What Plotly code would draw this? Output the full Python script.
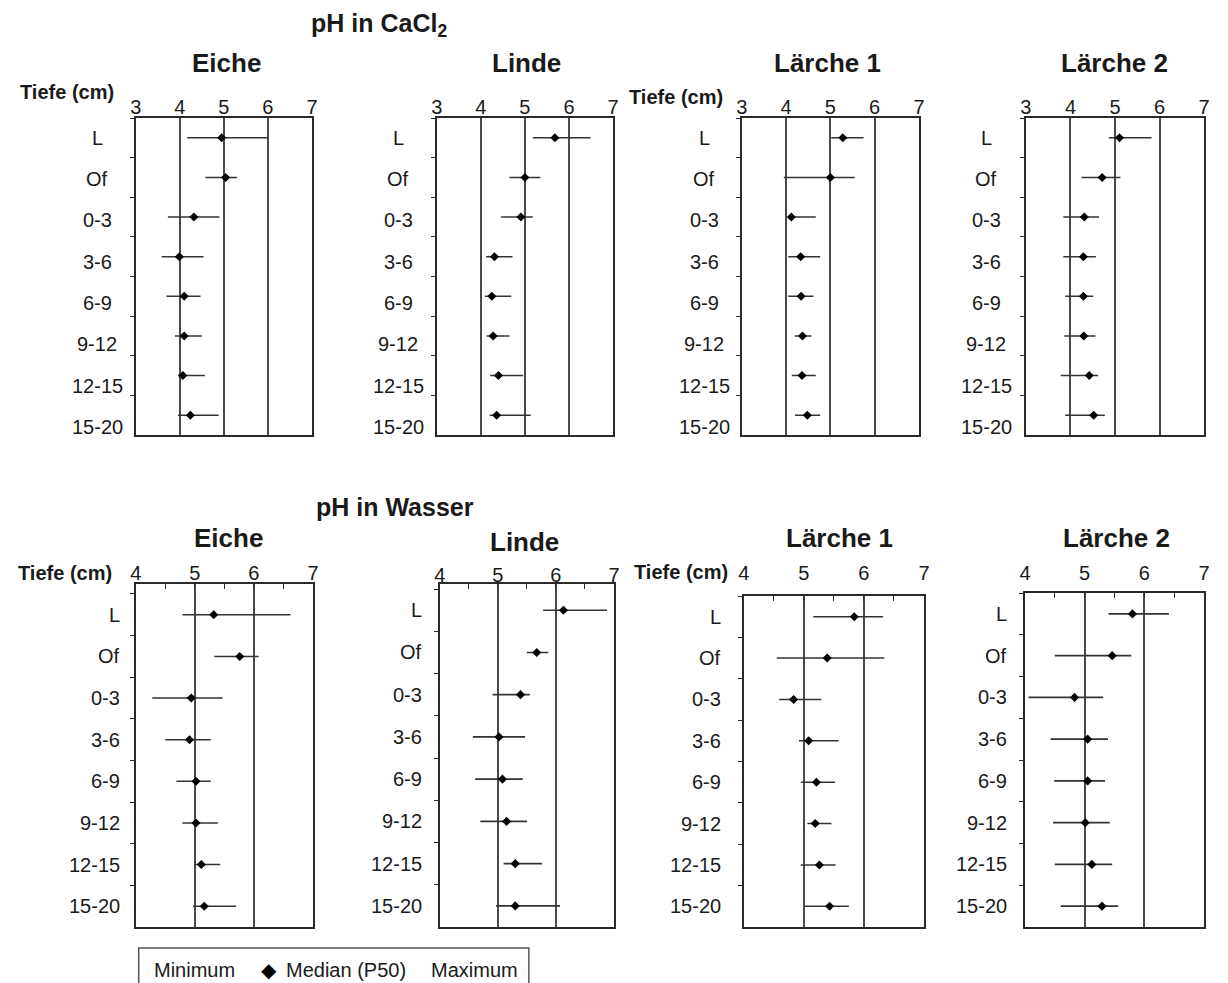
import plotly.graph_objects as go

W, H = 1228, 983

depths = ["L", "Of", "0-3", "3-6", "6-9", "9-12", "12-15", "15-20"]
sites = ["Eiche", "Linde", "Lärche 1", "Lärche 2"]

# ---- pH in CaCl2 ----
cacl2_eiche_min = [4.17, 4.58, 3.73, 3.59, 3.70, 3.89, 3.96, 3.96]
cacl2_eiche_med = [4.95, 5.04, 4.32, 3.99, 4.10, 4.10, 4.07, 4.24]
cacl2_eiche_max = [6.00, 5.30, 4.90, 4.54, 4.47, 4.50, 4.57, 4.88]

cacl2_linde_min = [5.18, 4.65, 4.46, 4.12, 4.09, 4.13, 4.21, 4.20]
cacl2_linde_med = [5.68, 5.00, 4.91, 4.31, 4.25, 4.28, 4.40, 4.36]
cacl2_linde_max = [6.49, 5.35, 5.18, 4.72, 4.69, 4.65, 4.96, 5.13]

cacl2_laerche1_min = [5.02, 3.95, 4.04, 4.05, 4.05, 4.20, 4.13, 4.20]
cacl2_laerche1_med = [5.28, 5.00, 4.12, 4.33, 4.34, 4.37, 4.36, 4.48]
cacl2_laerche1_max = [5.75, 5.55, 4.67, 4.77, 4.62, 4.57, 4.67, 4.77]

cacl2_laerche2_min = [4.86, 4.25, 3.84, 3.84, 3.88, 3.86, 3.78, 3.88]
cacl2_laerche2_med = [5.10, 4.71, 4.31, 4.29, 4.29, 4.30, 4.42, 4.52]
cacl2_laerche2_max = [5.82, 5.12, 4.64, 4.57, 4.51, 4.56, 4.62, 4.77]

# ---- pH in Wasser ----
wasser_eiche_min = [4.79, 5.33, 4.28, 4.50, 4.69, 4.79, 4.99, 4.97]
wasser_eiche_med = [5.32, 5.76, 4.94, 4.91, 5.02, 5.02, 5.11, 5.16]
wasser_eiche_max = [6.62, 6.08, 5.47, 5.27, 5.27, 5.39, 5.43, 5.70]

wasser_linde_min = [5.78, 5.50, 4.91, 4.57, 4.61, 4.70, 5.10, 4.97]
wasser_linde_med = [6.13, 5.67, 5.39, 5.02, 5.08, 5.15, 5.30, 5.30]
wasser_linde_max = [6.88, 5.87, 5.55, 5.47, 5.43, 5.50, 5.76, 6.07]

wasser_laerche1_min = [5.16, 4.55, 4.59, 4.92, 4.95, 5.06, 4.95, 5.01]
wasser_laerche1_med = [5.84, 5.39, 4.83, 5.08, 5.21, 5.19, 5.26, 5.43]
wasser_laerche1_max = [6.32, 6.34, 5.29, 5.58, 5.52, 5.46, 5.53, 5.75]

wasser_laerche2_min = [5.40, 4.50, 4.06, 4.43, 4.49, 4.47, 4.50, 4.60]
wasser_laerche2_med = [5.80, 5.46, 4.83, 5.05, 5.05, 5.01, 5.12, 5.29]
wasser_laerche2_max = [6.41, 5.78, 5.31, 5.39, 5.34, 5.42, 5.46, 5.56]

cacl2_ticks = [3, 4, 5, 6, 7]
wasser_ticks = [4, 5, 6, 7]

panels = [
    # (min, med, max, title, row)
    (cacl2_eiche_min, cacl2_eiche_med, cacl2_eiche_max, "Eiche", 0),
    (cacl2_linde_min, cacl2_linde_med, cacl2_linde_max, "Linde", 0),
    (cacl2_laerche1_min, cacl2_laerche1_med, cacl2_laerche1_max, "Lärche 1", 0),
    (cacl2_laerche2_min, cacl2_laerche2_med, cacl2_laerche2_max, "Lärche 2", 0),
    (wasser_eiche_min, wasser_eiche_med, wasser_eiche_max, "Eiche", 1),
    (wasser_linde_min, wasser_linde_med, wasser_linde_max, "Linde", 1),
    (wasser_laerche1_min, wasser_laerche1_med, wasser_laerche1_max, "Lärche 1", 1),
    (wasser_laerche2_min, wasser_laerche2_med, wasser_laerche2_max, "Lärche 2", 1),
]

# layout geometry (pixels)
boxes = [
    (131, 309, 118, 435), (435, 613, 118, 435), (743, 922, 118, 435), (1030, 1210, 118, 435),
    (131, 310, 584, 927), (438, 614, 584, 927), (745, 927, 596, 927), (1029, 1210, 593, 927),
]
ytop = [-0.5, -0.5, -0.5, -0.5, -0.74, -0.62, -0.5, -0.5]
xstandoff = [-6, -6, -6, -6, -6, -8, 6, 3]
title_pos = [(223, 63), (526, 63), (830, 63), (1119, 63),
             (225, 538), (524, 542), (842, 538), (1121, 538)]
rowlab_x = [92, 396, 705, 990, 117, 422, 724, 1013]
tiefe_pos = [(62, 92), (677, 97), (60, 573), (682, 572)]

FONT = "Liberation Sans, Arial, sans-serif"
TXT = "#1a1a1a"
LINE = "#2a2a2a"
GRID = "#4a4a4a"

fig = go.Figure()
layout = dict(
    width=W, height=H, margin=dict(l=0, r=0, t=0, b=0),
    paper_bgcolor="white", plot_bgcolor="white", showlegend=False,
    font=dict(family=FONT, color=TXT),
)
annotations = []
for i, (mn, md, mx, title, row) in enumerate(panels):
    k = "" if i == 0 else str(i + 1)
    x0, x1, y0, y1 = boxes[i]
    fig.add_trace(go.Scatter(
        x=md, y=depths, xaxis="x" + k, yaxis="y" + k, mode="markers",
        marker=dict(symbol="diamond", size=7, color="black"),
        error_x=dict(type="data", symmetric=False,
                     array=[b - a for a, b in zip(md, mx)],
                     arrayminus=[a - b for a, b in zip(md, mn)],
                     width=0, thickness=1.6, color="#333333"),
        cliponaxis=False,
    ))
    ticks = cacl2_ticks if row == 0 else wasser_ticks
    xa = dict(
        domain=[x0 / W, x1 / W], anchor="y" + k, side="top",
        range=[ticks[0], ticks[-1]], tickvals=ticks, ticktext=[str(t) for t in ticks],
        showgrid=True, gridcolor=GRID, gridwidth=1.5, zeroline=False,
        showline=True, linecolor=LINE, linewidth=2, mirror=True,
        tickfont=dict(size=20, color=TXT), ticklabelstandoff=xstandoff[i],
        fixedrange=True,
    )
    if row == 1:
        xa.update(ticks="inside", ticklen=5, tickcolor=LINE, tickwidth=1.3,
                  minor=dict(dtick=0.5, tick0=4, ticks="inside", ticklen=5,
                             tickcolor=LINE, tickwidth=1.3, showgrid=False))
    else:
        xa.update(ticks="")
    ya = dict(
        domain=[1 - y1 / H, 1 - y0 / H], anchor="x" + k,
        type="category", categoryorder="array", categoryarray=depths,
        range=[7.5, ytop[i]], tickson="boundaries", ticks="outside",
        ticklen=4, tickcolor=LINE, tickwidth=1.3,
        showticklabels=False, showgrid=False, zeroline=False,
        showline=True, linecolor=LINE, linewidth=2, mirror=True,
        fixedrange=True,
    )
    layout["xaxis" + k] = xa
    layout["yaxis" + k] = ya

    tx, ty = title_pos[i]
    annotations.append(dict(text="<b>%s</b>" % title, x=tx / W, y=1 - ty / H,
                            xref="paper", yref="paper", showarrow=False,
                            xanchor="center", yanchor="middle",
                            font=dict(size=26, color=TXT)))
    for j, d in enumerate(depths):
        if row == 0:
            annotations.append(dict(text=d, x=rowlab_x[i] / W, y=d, xref="paper",
                                    yref="y" + k, showarrow=False, xanchor="center",
                                    yanchor="middle", yshift=-1.7 * j,
                                    font=dict(size=20, color=TXT)))
        else:
            annotations.append(dict(text=d, x=rowlab_x[i] / W, y=d, xref="paper",
                                    yref="y" + k, showarrow=False, xanchor="right",
                                    yanchor="middle", font=dict(size=20, color=TXT)))

for tx, ty in tiefe_pos:
    annotations.append(dict(text="<b>Tiefe (cm)</b>", x=tx / W, y=1 - ty / H,
                            xref="paper", yref="paper", showarrow=False,
                            xanchor="center", yanchor="middle",
                            font=dict(size=20, color=TXT)))

annotations.append(dict(text="<b>pH in CaCl<sub>2</sub></b>", x=377 / W, y=1 - 25 / H,
                        xref="paper", yref="paper", showarrow=False,
                        xanchor="center", yanchor="middle", font=dict(size=25, color=TXT)))
annotations.append(dict(text="<b>pH in Wasser</b>", x=393 / W, y=1 - 507 / H,
                        xref="paper", yref="paper", showarrow=False,
                        xanchor="center", yanchor="middle", font=dict(size=25, color=TXT)))

# legend box
legend_items = [("Minimum", 190), ("Median (P50)", 343), ("Maximum", 473)]
for txt, cx in legend_items:
    annotations.append(dict(text=txt, x=cx / W, y=1 - 970 / H, xref="paper", yref="paper",
                            showarrow=False, xanchor="center", yanchor="middle",
                            font=dict(size=20, color=TXT)))
annotations.append(dict(text="◆", x=266 / W, y=1 - 970 / H, xref="paper", yref="paper",
                        showarrow=False, xanchor="center", yanchor="middle",
                        font=dict(size=20, color="black", family="DejaVu Sans")))
layout["annotations"] = annotations
layout["shapes"] = [dict(type="rect", xref="paper", yref="paper",
                         x0=134 / W, x1=528 / W, y0=1 - 1000 / H, y1=1 - 948 / H,
                         line=dict(color="#555555", width=1.5), fillcolor="rgba(0,0,0,0)")]

fig.update_layout(**layout)
fig.write_html("out.html", config={"displayModeBar": False},
               post_script="document.body.style.margin='0';document.body.style.overflow='hidden';")
